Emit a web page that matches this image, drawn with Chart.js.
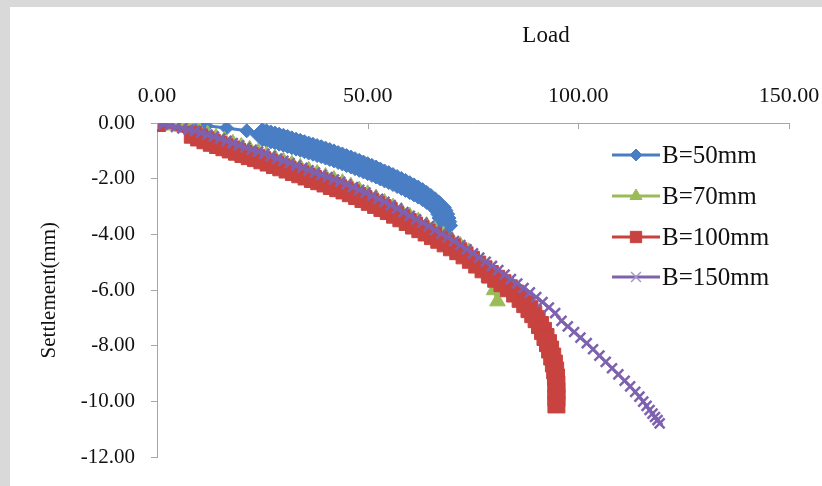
<!DOCTYPE html>
<html>
<head>
<meta charset="utf-8">
<script src="https://cdn.jsdelivr.net/npm/chart.js@4.4.1/dist/chart.umd.min.js"></script>
<style>
  html, body { margin: 0; padding: 0; background: #fff; }
  #wrap { position: relative; width: 822px; height: 486px; overflow: hidden; }
  .strip { position: absolute; background: #d9d9d9; }
  canvas { position: absolute; left: 0; top: 0; }
</style>
</head>
<body>
<div id="wrap">
  <div class="strip" style="left:0;top:0;width:10px;height:486px"></div>
  <div class="strip" style="left:0;top:0;width:822px;height:7px"></div>
  <canvas id="chart" width="822" height="486"></canvas>
</div>
<script>
// valeurs (Load / Settlement)
let load50 = [0, 11.7, 16.5, 21.3, 25, 26, 27, 28, 29, 30, 31, 32, 33, 34, 35, 36, 37, 38, 39, 40, 41, 42, 43, 44, 45, 46, 47, 48, 49, 50, 51, 52, 53, 54, 55, 56, 57, 58, 59, 60, 61, 62, 63, 64, 65, 66, 67, 67.4, 67.8, 68.1, 68.3, 68.5]
let settle50 = [0, -0.1, -0.18, -0.28, -0.42, -0.46, -0.5, -0.54, -0.58, -0.62, -0.66, -0.71, -0.76, -0.8, -0.85, -0.9, -0.94, -0.99, -1.03, -1.08, -1.13, -1.18, -1.24, -1.29, -1.35, -1.4, -1.46, -1.52, -1.58, -1.64, -1.7, -1.76, -1.83, -1.9, -1.96, -2.03, -2.1, -2.17, -2.24, -2.32, -2.4, -2.48, -2.57, -2.67, -2.78, -2.9, -3.03, -3.14, -3.27, -3.41, -3.54, -3.68]

let load70 = [0, 2, 4, 6, 8, 10, 12, 14, 16, 18, 20, 22, 24, 26, 28, 30, 32, 34, 36, 38, 40, 42, 44, 46, 48, 50, 52, 54, 56, 58, 60, 62, 64, 66, 68, 70, 72, 74, 76, 77.5, 79, 80, 80.8]
let settle70 = [0, -0.04, -0.09, -0.14, -0.19, -0.29, -0.4, -0.51, -0.62, -0.73, -0.84, -0.94, -1.04, -1.15, -1.26, -1.37, -1.48, -1.59, -1.7, -1.81, -1.92, -2.03, -2.14, -2.27, -2.41, -2.54, -2.69, -2.85, -3.02, -3.17, -3.35, -3.52, -3.68, -3.85, -4.02, -4.2, -4.4, -4.62, -4.9, -5.2, -5.6, -6, -6.4]

let load100 = [0, 8.5, 10, 11.5, 13, 14.5, 16, 17.5, 19, 20.5, 22, 23.5, 25, 26.5, 28, 29.5, 31, 32.5, 34, 35.5, 37, 38.5, 40, 41.5, 43, 44.5, 46, 47.5, 49, 50.5, 52, 53.5, 55, 56.5, 58, 59.5, 61, 62.5, 64, 65.5, 67, 68.5, 70, 71.5, 73, 74.5, 76, 77.5, 79, 80.5, 82, 83.5, 85, 86.3, 87.4, 88.4, 89.3, 90.1, 90.9, 91.6, 92.2, 92.8, 93.3, 93.8, 94.2, 94.5, 94.7, 94.8, 94.8, 94.8, 94.8]
let settle100 = [0, -0.42, -0.52, -0.62, -0.71, -0.79, -0.87, -0.95, -1.03, -1.11, -1.19, -1.26, -1.34, -1.42, -1.51, -1.59, -1.67, -1.76, -1.84, -1.92, -2.01, -2.09, -2.17, -2.26, -2.34, -2.42, -2.52, -2.62, -2.73, -2.83, -2.94, -3.05, -3.16, -3.29, -3.42, -3.55, -3.68, -3.81, -3.93, -4.06, -4.19, -4.32, -4.46, -4.6, -4.75, -4.91, -5.08, -5.25, -5.42, -5.59, -5.75, -5.93, -6.12, -6.31, -6.5, -6.68, -6.86, -7.04, -7.25, -7.46, -7.68, -7.9, -8.13, -8.38, -8.63, -8.88, -9.13, -9.38, -9.62, -9.86, -10.1]

let load150 = [0, 1.5, 3, 4.5, 6, 7.5, 9, 10.5, 12, 13.5, 15, 16.5, 18, 19.5, 21, 22.5, 24, 25.5, 27, 28.5, 30, 31.5, 33, 34.5, 36, 37.5, 39, 40.5, 42, 43.5, 45, 46.5, 48, 49.5, 51, 52.5, 54, 55.5, 57, 58.5, 60, 61.5, 63, 64.5, 66, 67.5, 69, 70.5, 72, 73.5, 75, 76.5, 78, 79.5, 81, 82.5, 84, 85.5, 87, 88.5, 90, 91.5, 93, 94.5, 96, 97.5, 99, 100.5, 102, 103.5, 105, 106.5, 108, 109.5, 111, 112.3, 113.5, 114.5, 115.4, 116.2, 116.9, 117.6, 118.2, 118.8, 119.3]
let settle150 = [0, -0.04, -0.09, -0.14, -0.19, -0.24, -0.28, -0.35, -0.42, -0.49, -0.56, -0.64, -0.72, -0.8, -0.88, -0.96, -1.03, -1.11, -1.19, -1.28, -1.36, -1.44, -1.53, -1.61, -1.7, -1.78, -1.86, -1.94, -2.03, -2.11, -2.2, -2.3, -2.4, -2.5, -2.61, -2.72, -2.83, -2.95, -3.07, -3.2, -3.33, -3.46, -3.58, -3.71, -3.84, -3.97, -4.1, -4.24, -4.38, -4.53, -4.68, -4.83, -4.98, -5.13, -5.28, -5.44, -5.6, -5.76, -5.92, -6.08, -6.25, -6.43, -6.62, -6.82, -7.1, -7.3, -7.5, -7.7, -7.9, -8.12, -8.35, -8.57, -8.8, -9.02, -9.25, -9.45, -9.65, -9.82, -10, -10.15, -10.3, -10.43, -10.55, -10.66, -10.78]

let seriesNames = ["B=50mm", "B=70mm", "B=100mm", "B=150mm"]
let xTicks = [0, 50, 100, 150]

const fontName = "'Liberation Serif', 'Times New Roman', serif"

function toPoints(xs, ys) {
    return xs.map((x, i) => ({ x: x, y: ys[i] }))
}

const styles = [
    { color: '#4a7ec4', pointStyle: 'rectRot', radius: (c) => (c.dataIndex < 4 ? 7 : 12), legendRadius: 6, order: 3 },
    { color: '#9bbb59', pointStyle: 'triangle', radius: 9, legendRadius: 7, order: 2 },
    { color: '#c8433f', pointStyle: 'rect', radius: 12, legendRadius: 8, order: 1 },
    { color: '#7e62b0', pointStyle: 'crossRot', radius: 7, legendRadius: 7, order: 0 }
]
const allLoads = [load50, load70, load100, load150]
const allSettles = [settle50, settle70, settle100, settle150]

const datasets = seriesNames.map((name, i) => ({
    label: name,
    data: toPoints(allLoads[i], allSettles[i]),
    showLine: true,
    borderColor: styles[i].color,
    backgroundColor: styles[i].color,
    borderWidth: 3,
    pointStyle: styles[i].pointStyle,
    pointRadius: styles[i].radius,
    pointBorderWidth: styles[i].pointStyle === 'crossRot' ? 2.5 : 1,
    pointBorderColor: styles[i].color,
    pointBackgroundColor: styles[i].color,
    order: styles[i].order,
    tension: 0
}))

// legende + titre "Load" + petites graduations vers l'interieur
const extras = {
    id: 'extras',
    afterDraw(chart) {
        const ctx = chart.ctx
        const xs = chart.scales.x
        const top = chart.chartArea.top
        ctx.save()
        ctx.strokeStyle = '#a6a6a6'
        ctx.lineWidth = 1
        xTicks.forEach((t) => {
            const px = Math.round(xs.getPixelForValue(t)) + 0.5
            ctx.beginPath()
            ctx.moveTo(px, top)
            ctx.lineTo(px, top + 6)
            ctx.stroke()
        })

        ctx.fillStyle = '#111'
        ctx.font = '23px ' + fontName
        ctx.textAlign = 'center'
        ctx.textBaseline = 'middle'
        ctx.fillText('Load', 546, 36)

        const rowsY = [155, 196, 237, 277]
        seriesNames.forEach((name, i) => {
            const y = rowsY[i]
            const st = styles[i]
            ctx.strokeStyle = st.color
            ctx.fillStyle = st.color
            ctx.lineWidth = 3
            ctx.beginPath()
            ctx.moveTo(612, y)
            ctx.lineTo(660, y)
            ctx.stroke()
            ctx.lineWidth = st.pointStyle === 'crossRot' ? 1.5 : 1
            if (st.pointStyle === 'crossRot') ctx.strokeStyle = '#a898c8'
            Chart.helpers.drawPoint(ctx, { pointStyle: st.pointStyle, radius: st.legendRadius, borderWidth: ctx.lineWidth, rotation: 0 }, 636, y)
            ctx.fillStyle = '#111'
            ctx.font = '25px ' + fontName
            ctx.textAlign = 'left'
            ctx.fillText(name, 662, y + 1)
        })
        ctx.restore()
    }
}

const config = {
    type: 'scatter',
    data: { datasets: datasets },
    options: {
        responsive: false,
        animation: false,
        layout: { padding: { left: 0, right: 33, top: 0, bottom: 20 } },
        plugins: {
            legend: { display: false },
            tooltip: { enabled: false }
        },
        scales: {
            x: {
                type: 'linear',
                position: 'top',
                min: 0,
                max: 150,
                afterFit: (scale) => {
                    scale.height = 123
                    scale.paddingLeft = 0
                    scale.paddingRight = 0
                },
                afterBuildTicks: (scale) => { scale.ticks = xTicks.map((v) => ({ value: v })) },
                border: { display: true, color: '#a6a6a6', width: 1 },
                grid: { display: true, drawOnChartArea: false, drawTicks: false, color: '#a6a6a6' },
                ticks: {
                    padding: 14,
                    color: '#111',
                    font: { family: fontName, size: 22 },
                    maxRotation: 0,
                    callback: (v) => Number(v).toFixed(2)
                }
            },
            y: {
                type: 'linear',
                min: -12,
                max: 0,
                afterFit: (scale) => { scale.width = 157 },
                border: { display: true, color: '#a6a6a6', width: 1 },
                grid: { display: true, drawOnChartArea: false, drawTicks: true, tickLength: 6, color: '#a6a6a6' },
                title: {
                    display: true,
                    text: 'Settlement(mm)',
                    color: '#111',
                    font: { family: fontName, size: 21 },
                    padding: { top: 37, bottom: 0 }
                },
                ticks: {
                    stepSize: 2,
                    padding: 16,
                    color: '#111',
                    font: { family: fontName, size: 21 },
                    callback: (v) => Number(v).toFixed(2)
                }
            }
        }
    },
    plugins: [extras]
}

const ctx = document.getElementById('chart')
new Chart(ctx, config)
</script>
</body>
</html>
